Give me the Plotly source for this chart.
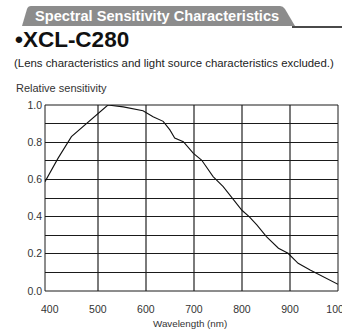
import plotly.graph_objects as go

# Data
wavelength_nm = [390, 417, 445, 473, 497, 521, 553, 573, 594, 615, 636, 650, 660, 678,
                 699, 716, 740, 761, 779, 800, 815, 831, 851, 876, 896, 917, 942, 969, 1000]
relative_sensitivity = [0.588, 0.713, 0.830, 0.892, 0.946, 1.000, 0.990, 0.978, 0.969, 0.937,
                        0.912, 0.866, 0.822, 0.803, 0.740, 0.704, 0.615, 0.561, 0.500, 0.434,
                        0.400, 0.355, 0.292, 0.230, 0.203, 0.149, 0.113, 0.077, 0.036]
x_ticks = [400, 500, 600, 700, 800, 900, 1000]
x_grid = [500, 600, 700, 800, 900]
y_ticks = [0.0, 0.2, 0.4, 0.6, 0.8, 1.0]
y_grid = [0.1, 0.2, 0.3, 0.4, 0.5, 0.6, 0.7, 0.8, 0.9]

W, H = 342, 329
L, R, T, B = 45, 4, 105, 38
PW, PH = W - L - R, H - T - B

def px(x):
    return (x - L) / PW

def py(y):
    return (H - B - y) / PH

FONT = "Liberation Sans, Arial, sans-serif"

fig = go.Figure()
fig.add_trace(go.Scatter(x=wavelength_nm, y=relative_sensitivity, mode="lines",
                         line=dict(color="#111111", width=1.1), hoverinfo="skip",
                         showlegend=False))

shapes = []
# borders
shapes.append(dict(type="rect", xref="paper", yref="paper", x0=0, x1=1, y0=0, y1=1,
                   line=dict(color="#1a1a1a", width=1), layer="above"))

# title tab
tab_path = "M {} {} L {} {} Q {} {} {} {} L {} {} Q {} {} {} {} L {} {} Z".format(
    px(22), py(26), px(27), py(9), px(28), py(6), px(31), py(6),
    px(280), py(6), px(283), py(6), px(285), py(9), px(295), py(26))
shapes.append(dict(type="path", xref="paper", yref="paper", path=tab_path,
                   fillcolor="#8c8c8c", line=dict(width=0)))
shapes.append(dict(type="line", xref="paper", yref="paper", x0=px(292), x1=px(342),
                   y0=py(27), y1=py(27), line=dict(color="#4a4a4a", width=2)))

annotations = [
    dict(text="<b>Spectral Sensitivity Characteristics</b>", xref="paper", yref="paper",
         x=px(157), y=py(16), xanchor="center", yanchor="middle", showarrow=False,
         font=dict(family=FONT, size=14.6, color="white")),
    dict(text="<b>•XCL-C280</b>", xref="paper", yref="paper",
         x=px(13), y=py(39), xanchor="left", yanchor="middle", showarrow=False,
         font=dict(family=FONT, size=22.5, color="#111111")),
    dict(text="(Lens characteristics and light source characteristics excluded.)",
         xref="paper", yref="paper", x=px(12), y=py(63), xanchor="left", yanchor="middle",
         showarrow=False, font=dict(family=FONT, size=11.4, color="#222222")),
    dict(text="Relative sensitivity", xref="paper", yref="paper",
         x=px(14), y=py(88), xanchor="left", yanchor="middle", showarrow=False,
         font=dict(family=FONT, size=11, color="#333333")),
    dict(text="Wavelength (nm)", xref="paper", yref="paper",
         x=px(190), y=py(323), xanchor="center", yanchor="middle", showarrow=False,
         font=dict(family=FONT, size=9.8, color="#333333")),
]

fig.update_layout(
    width=W, height=H, margin=dict(l=L, r=R, t=T, b=B, autoexpand=False),
    paper_bgcolor="white", plot_bgcolor="white",
    shapes=shapes, annotations=annotations, showlegend=False,
    xaxis=dict(range=[390, 1000], tickvals=x_ticks, ticktext=[str(v) for v in x_ticks],
               showgrid=False, zeroline=False, showline=False, ticks="", automargin=False,
               minor=dict(tickvals=x_grid, showgrid=True, gridcolor="#7a7a7a",
                          gridwidth=1.6, ticks=""),
               tickfont=dict(family=FONT, size=10.5, color="#333333"), ticklabelstandoff=10,
               ticklabeloverflow="allow", fixedrange=True),
    yaxis=dict(range=[0, 1.0], tickvals=y_ticks, ticktext=["%.1f" % v for v in y_ticks],
               showgrid=False, zeroline=False, showline=False, ticks="", automargin=False,
               minor=dict(tickvals=y_grid, showgrid=True, gridcolor="#1a1a1a",
                          gridwidth=1, ticks=""),
               tickfont=dict(family=FONT, size=10.5, color="#333333"), ticklabelstandoff=2,
               ticklabeloverflow="allow", fixedrange=True),
)

fig.write_html("out.html", config={"displayModeBar": False})
